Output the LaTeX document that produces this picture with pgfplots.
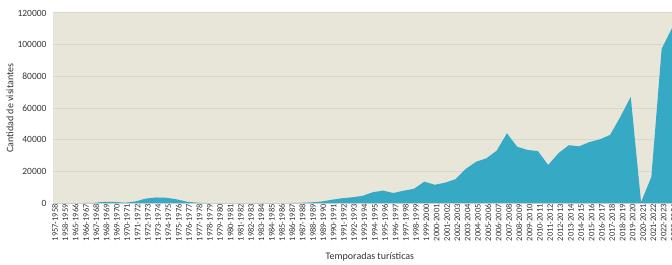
\documentclass[border=0pt]{standalone}
\usepackage{pgfplots}
\pgfplotsset{compat=1.18}
\usepackage{pgfplotstable}
\usepackage{fontspec}
\setmainfont{Carlito}
\definecolor{bgc}{HTML}{E8E6D8}
\definecolor{gridc}{HTML}{DCD5D0}
\definecolor{fillc}{HTML}{36A9C4}
\definecolor{txt}{HTML}{333333}
\pgfplotstableread{
x y
0 0
1 0
2 0
3 0
4 100
5 800
6 700
7 150
8 1000
9 2800
10 3500
11 3300
12 2300
13 800
14 200
15 0
16 0
17 0
18 0
19 0
20 0
21 0
22 0
23 0
24 100
25 400
26 900
27 2000
28 3000
29 3600
30 4500
31 6800
32 7800
33 6300
34 7800
35 9000
36 13500
37 11500
38 12800
39 15000
40 21500
41 26000
42 28200
43 33000
44 44000
45 35500
46 33500
47 32800
48 24000
49 31500
50 36500
51 35800
52 38500
53 40200
54 43000
55 54500
56 67000
57 500
58 16500
59 97500
60 110500
}\visitors
\begin{document}
\begin{tikzpicture}
\useasboundingbox (-53pt,-62pt) rectangle (619pt,13pt+190pt);
\begin{axis}[
  at={(0,0)}, anchor=south west,
  scale only axis, width=619pt, height=190pt,
  xmin=0, xmax=60, ymin=0, ymax=120000,
  axis background/.style={fill=bgc},
  axis line style={draw=none},
  major tick length=0pt,
  ymajorgrids, grid style={gridc, line width=1pt},
  scaled y ticks=false,
  ytick={0,20000,40000,60000,80000,100000,120000},
  yticklabels={0,20000,40000,60000,80000,100000,120000},
  yticklabel style={font=\fontsize{9.5}{10}\selectfont, text=txt, xshift=-3pt},
  xtick={0,...,60},
  xticklabels={1957-1958,1958-1959,1965-1966,1966-1967,1967-1968,1968-1969,1969-1970,1970-1971,1971-1972,1972-1973,1973-1974,1974-1975,1975-1976,1976-1977,1977-1978,1978-1979,1979-1980,1980-1981,1981-1982,1982-1983,1983-1984,1984-1985,1985-1986,1986-1987,1987-1988,1988-1989,1989-1990,1990-1991,1991-1992,1992-1993,1993-1994,1994-1995,1995-1996,1996-1997,1997-1998,1998-1999,1999-2000,2000-2001,2001-2002,2002-2003,2003-2004,2004-2005,2005-2006,2006-2007,2007-2008,2008-2009,2009-2010,2010-2011,2011-2012,2012-2013,2013-2014,2014-2015,2015-2016,2016-2017,2017-2018,2018-2019,2019-2020,2020-2021,2021-2022,2022-2023,2023-2024},
  xticklabel style={rotate=90, anchor=east, font=\fontsize{8.5}{9}\selectfont, text=txt, inner sep=1pt, yshift=-2pt},
  ylabel={Cantidad de visitantes},
  every axis y label/.style={at={(axis description cs:0,0.5)}, xshift=-43pt, rotate=90, anchor=center, font=\fontsize{10}{11}\selectfont, text=txt},
  xlabel={Temporadas turísticas},
  every axis x label/.style={at={(axis description cs:0.512,0)}, anchor=center, yshift=-53.5pt, font=\fontsize{10}{11}\selectfont, text=txt},
  clip=true,
]
\addplot[fill=fillc, draw=none] table[x=x, y=y] {\visitors} \closedcycle;
\end{axis}
\end{tikzpicture}
\end{document}
